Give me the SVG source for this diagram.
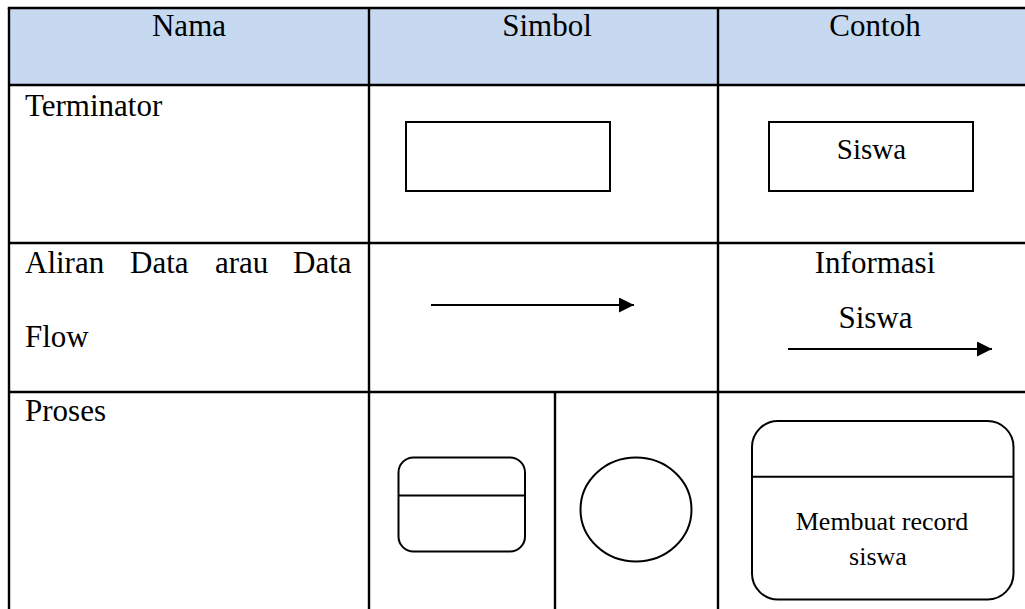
<svg xmlns="http://www.w3.org/2000/svg" width="1025" height="609" viewBox="0 0 1025 609">
  <defs>
    <marker id="arrowhead" markerWidth="15" markerHeight="15" refX="15" refY="7.5" orient="auto" markerUnits="userSpaceOnUse">
      <path d="M0,0 L15,7.5 L0,15 Z" fill="#000"/>
    </marker>
  </defs>
  <style>
    .grid { stroke: #000; stroke-width: 2.4; fill: none; }
    .shape { stroke: #000; stroke-width: 2; fill: #fff; }
    .txt { font-family: "Liberation Serif", "Times New Roman", serif; fill: #000; }
    .head { font-size: 31px; text-anchor: middle; }
    .body { font-size: 31px; }
    .mid { text-anchor: middle; }
    .flow { stroke: #000; stroke-width: 2; fill: none; }
  </style>

  <rect x="0" y="0" width="1025" height="609" fill="#fff"/>

  <!-- header band -->
  <rect x="9" y="8" width="1016" height="77" fill="#C6D9F1"/>

  <!-- table rules -->
  <g id="table-grid" class="grid">
    <line x1="7.8" y1="8" x2="1025" y2="8"/>
    <line x1="9" y1="8" x2="9" y2="609"/>
    <line x1="9" y1="85" x2="1025" y2="85"/>
    <line x1="9" y1="243" x2="1025" y2="243"/>
    <line x1="9" y1="392" x2="1025" y2="392"/>
    <line x1="369" y1="8" x2="369" y2="609"/>
    <line x1="718" y1="8" x2="718" y2="609"/>
    <line x1="555" y1="392" x2="555" y2="609"/>
  </g>

  <!-- column headings -->
  <g id="headings" class="txt head">
    <text x="189" y="36">Nama</text>
    <text x="547" y="36">Simbol</text>
    <text x="875" y="36">Contoh</text>
  </g>

  <!-- row names -->
  <g id="names" class="txt body">
    <text x="25" y="116">Terminator</text>
    <text x="25" y="273">Aliran</text>
    <text x="130" y="273">Data</text>
    <text x="215" y="273">arau</text>
    <text x="293" y="273">Data</text>
    <text x="25" y="347">Flow</text>
    <text x="25" y="421">Proses</text>
  </g>

  <!-- terminator symbol -->
  <g id="terminator-symbol">
    <rect class="shape" x="406" y="122" width="204" height="69"/>
  </g>

  <!-- terminator example -->
  <g id="terminator-example">
    <rect class="shape" x="769" y="122" width="204" height="69"/>
    <text class="txt mid" x="871.5" y="159" font-size="29">Siswa</text>
  </g>

  <!-- process symbols -->
  <g id="process-symbol-box">
    <rect class="shape" x="398.5" y="457.5" width="126.5" height="94" rx="15" ry="15"/>
    <line class="flow" x1="398.5" y1="495.5" x2="525" y2="495.5"/>
  </g>
  <g id="process-symbol-circle">
    <ellipse class="shape" cx="636" cy="509.5" rx="55.5" ry="52"/>
  </g>

  <!-- process example -->
  <g id="process-example">
    <rect class="shape" x="752" y="421" width="261.5" height="178.5" rx="26" ry="26"/>
    <line class="flow" x1="752" y1="476.7" x2="1013.5" y2="476.7"/>
    <text class="txt mid" x="882" y="530" font-size="26">Membuat record</text>
    <text class="txt mid" x="878" y="565" font-size="26">siswa</text>
  </g>

  <!-- data flow example label -->
  <g id="flow-example-label" class="txt body mid">
    <text x="875" y="273">Informasi</text>
    <text x="875.5" y="328">Siswa</text>
  </g>

  <!-- connectors -->
  <g id="connectors">
    <line class="flow" x1="431" y1="305" x2="634" y2="305" marker-end="url(#arrowhead)"/>
    <line class="flow" x1="788" y1="349" x2="992" y2="349" marker-end="url(#arrowhead)"/>
  </g>
</svg>
